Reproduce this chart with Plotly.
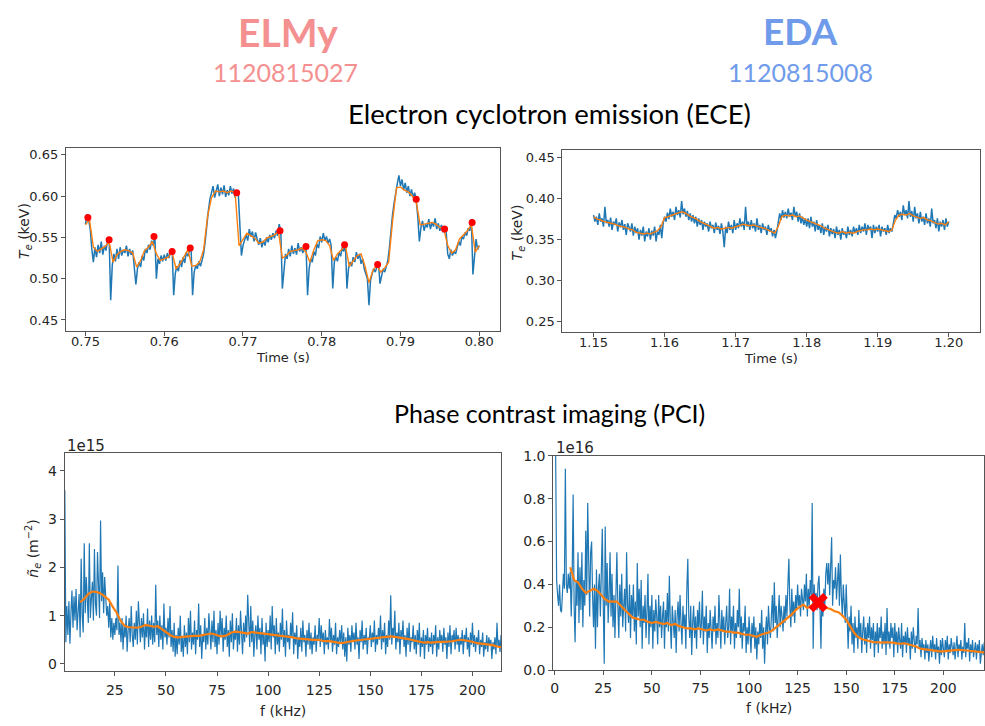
import plotly.graph_objects as go

# ---------------- ECE, ELMy discharge 1120815027 ----------------
ece_elmy_t0, ece_elmy_dt = 0.7500, 0.0002
ece_elmy_raw = [
    0.566, 0.578, 0.571, 0.560, 0.536, 0.520, 0.538, 0.526, 0.541, 0.531,
    0.545, 0.529, 0.540, 0.534, 0.546, 0.549, 0.474, 0.516, 0.530, 0.521,
    0.536, 0.524, 0.538, 0.528, 0.535, 0.531, 0.540, 0.527, 0.536, 0.529,
    0.534, 0.512, 0.493, 0.512, 0.520, 0.514, 0.528, 0.522, 0.536, 0.531,
    0.541, 0.535, 0.546, 0.540, 0.553, 0.500, 0.524, 0.518, 0.528, 0.521,
    0.529, 0.522, 0.531, 0.525, 0.533, 0.536, 0.480, 0.506, 0.515, 0.509,
    0.522, 0.514, 0.526, 0.519, 0.532, 0.527, 0.533, 0.540, 0.480, 0.508,
    0.516, 0.512, 0.521, 0.515, 0.522, 0.530, 0.545, 0.566, 0.582, 0.596,
    0.603, 0.612, 0.598, 0.608, 0.614, 0.600, 0.610, 0.602, 0.613, 0.599,
    0.607, 0.601, 0.612, 0.603, 0.609, 0.598, 0.606, 0.604, 0.560, 0.528,
    0.540, 0.548, 0.553, 0.546, 0.560, 0.551, 0.557, 0.545, 0.556, 0.548,
    0.541, 0.549, 0.538, 0.546, 0.540, 0.550, 0.544, 0.553, 0.547, 0.555,
    0.549, 0.558, 0.552, 0.566, 0.558, 0.488, 0.515, 0.530, 0.524, 0.536,
    0.527, 0.540, 0.530, 0.537, 0.529, 0.543, 0.533, 0.538, 0.531, 0.540,
    0.542, 0.480, 0.512, 0.524, 0.520, 0.533, 0.528, 0.542, 0.537, 0.551,
    0.544, 0.555, 0.546, 0.551, 0.543, 0.548, 0.540, 0.488, 0.520, 0.526,
    0.521, 0.532, 0.527, 0.538, 0.533, 0.543, 0.488, 0.512, 0.520, 0.515,
    0.526, 0.520, 0.532, 0.524, 0.530, 0.518, 0.524, 0.512, 0.506, 0.500,
    0.468, 0.498, 0.506, 0.512, 0.508, 0.515, 0.520, 0.494, 0.505, 0.512,
    0.508, 0.516, 0.522, 0.538, 0.560, 0.578, 0.592, 0.606, 0.615, 0.625,
    0.612, 0.620, 0.607, 0.616, 0.604, 0.612, 0.600, 0.608, 0.598, 0.604,
    0.595, 0.575, 0.545, 0.562, 0.570, 0.558, 0.566, 0.562, 0.572, 0.560,
    0.568, 0.563, 0.573, 0.560, 0.567, 0.558, 0.565, 0.556, 0.562, 0.557,
    0.530, 0.524, 0.535, 0.528, 0.533, 0.530, 0.538, 0.545, 0.540, 0.551,
    0.548, 0.556, 0.552, 0.561, 0.558, 0.572, 0.505, 0.528, 0.548, 0.535,
    0.540,
]
ece_elmy_smooth_dt = 0.0005
ece_elmy_smooth = [
    0.565, 0.572, 0.538, 0.533, 0.536, 0.539, 0.545, 0.520, 0.529, 0.533,
    0.535, 0.534, 0.531, 0.514, 0.522, 0.534, 0.538, 0.545, 0.530, 0.522,
    0.524, 0.526, 0.532, 0.512, 0.518, 0.527, 0.535, 0.515, 0.516, 0.520,
    0.535, 0.575, 0.598, 0.606, 0.605, 0.606, 0.604, 0.606, 0.604, 0.540,
    0.548, 0.555, 0.552, 0.549, 0.543, 0.544, 0.549, 0.551, 0.553, 0.557,
    0.525, 0.528, 0.533, 0.534, 0.535, 0.537, 0.532, 0.520, 0.535, 0.546,
    0.547, 0.546, 0.540, 0.522, 0.530, 0.535, 0.540, 0.515, 0.522, 0.528,
    0.530, 0.515, 0.495, 0.510, 0.516, 0.508, 0.513, 0.520, 0.570, 0.610,
    0.611, 0.607, 0.605, 0.600, 0.593, 0.565, 0.566, 0.567, 0.568, 0.566,
    0.562, 0.560, 0.540, 0.531, 0.535, 0.548, 0.553, 0.558, 0.565, 0.532,
    0.540,
]
# ELM crash onsets (peaks before each drop)
elm_t = [0.7503, 0.7530, 0.7587, 0.7610, 0.7633, 0.7692, 0.7747,
         0.7780, 0.7829, 0.7871, 0.7920, 0.7956, 0.7991]
elm_te = [0.574, 0.547, 0.551, 0.533, 0.537, 0.604, 0.558,
          0.539, 0.541, 0.517, 0.596, 0.560, 0.568]

# ---------------- ECE, EDA discharge 1120815008 ----------------
ece_eda_t0, ece_eda_dt = 1.1500, 0.0002
ece_eda_raw = [
    0.380, 0.372, 0.378, 0.368, 0.382, 0.372, 0.376, 0.366, 0.390, 0.370,
    0.374, 0.366, 0.377, 0.362, 0.372, 0.368, 0.376, 0.360, 0.371, 0.365,
    0.374, 0.362, 0.369, 0.356, 0.370, 0.364, 0.360, 0.370, 0.355, 0.366,
    0.358, 0.364, 0.350, 0.362, 0.355, 0.366, 0.348, 0.360, 0.354, 0.364,
    0.350, 0.361, 0.355, 0.366, 0.348, 0.360, 0.356, 0.368, 0.352, 0.370,
    0.378, 0.372, 0.383, 0.375, 0.388, 0.378, 0.384, 0.374, 0.390, 0.380,
    0.386, 0.377, 0.397, 0.381, 0.388, 0.378, 0.385, 0.374, 0.382, 0.372,
    0.380, 0.370, 0.378, 0.366, 0.376, 0.368, 0.374, 0.362, 0.372, 0.366,
    0.370, 0.360, 0.372, 0.364, 0.368, 0.358, 0.371, 0.362, 0.367, 0.357,
    0.370, 0.360, 0.341, 0.366, 0.358, 0.372, 0.362, 0.368, 0.358, 0.374,
    0.362, 0.370, 0.364, 0.376, 0.366, 0.372, 0.362, 0.390, 0.366, 0.372,
    0.362, 0.374, 0.364, 0.370, 0.360, 0.376, 0.362, 0.368, 0.358, 0.370,
    0.362, 0.366, 0.356, 0.368, 0.360, 0.364, 0.354, 0.362, 0.352, 0.360,
    0.372, 0.382, 0.374, 0.386, 0.377, 0.384, 0.376, 0.388, 0.378, 0.383,
    0.374, 0.390, 0.378, 0.384, 0.372, 0.382, 0.370, 0.378, 0.368, 0.376,
    0.366, 0.376, 0.364, 0.378, 0.366, 0.372, 0.360, 0.374, 0.362, 0.368,
    0.358, 0.370, 0.356, 0.366, 0.360, 0.368, 0.354, 0.364, 0.357, 0.363,
    0.352, 0.366, 0.356, 0.362, 0.350, 0.364, 0.356, 0.360, 0.352, 0.366,
    0.356, 0.362, 0.354, 0.366, 0.358, 0.364, 0.356, 0.368, 0.358, 0.366,
    0.360, 0.370, 0.356, 0.368, 0.362, 0.366, 0.352, 0.368, 0.358, 0.366,
    0.360, 0.368, 0.354, 0.366, 0.360, 0.364, 0.356, 0.368, 0.358, 0.364,
    0.360, 0.372, 0.380, 0.376, 0.386, 0.378, 0.384, 0.374, 0.392, 0.380,
    0.386, 0.376, 0.397, 0.378, 0.385, 0.372, 0.390, 0.376, 0.382, 0.370,
    0.384, 0.372, 0.378, 0.368, 0.382, 0.370, 0.376, 0.366, 0.388, 0.370,
    0.374, 0.364, 0.376, 0.360, 0.372, 0.366, 0.374, 0.362, 0.376, 0.366,
    0.372,
]
ece_eda_smooth_dt = 0.0005
ece_eda_smooth = [
    0.378, 0.375, 0.374, 0.372, 0.371, 0.370, 0.369, 0.367, 0.366, 0.365,
    0.363, 0.362, 0.359, 0.358, 0.357, 0.358, 0.357, 0.359, 0.361, 0.366,
    0.377, 0.378, 0.380, 0.381, 0.383, 0.384, 0.382, 0.379, 0.377, 0.375,
    0.372, 0.370, 0.368, 0.366, 0.364, 0.365, 0.363, 0.364, 0.365, 0.364,
    0.366, 0.367, 0.369, 0.368, 0.367, 0.368, 0.366, 0.365, 0.364, 0.362,
    0.361, 0.358, 0.366, 0.378, 0.380, 0.379, 0.380, 0.378, 0.379, 0.376,
    0.374, 0.372, 0.370, 0.368, 0.367, 0.364, 0.362, 0.360, 0.359, 0.358,
    0.360, 0.358, 0.359, 0.358, 0.360, 0.361, 0.362, 0.362, 0.363, 0.362,
    0.363, 0.362, 0.361, 0.360, 0.362, 0.374, 0.380, 0.381, 0.380, 0.382,
    0.379, 0.377, 0.376, 0.377, 0.374, 0.373, 0.371, 0.369, 0.370, 0.368,
    0.372,
]

# ---------------- PCI spectra ----------------
# ELMy, amplitude in units of 1e15 m^-2, 0.5 kHz bins starting at 0.5 kHz
pci_df = 0.5
pci_elmy = [
    3.60, 0.45, 1.20, 0.60, 1.30, 0.42, 1.05, 1.52, 0.75, 1.40,
    0.90, 1.55, 0.70, 1.10, 1.45, 0.55, 2.18, 1.00, 0.65, 2.50,
    1.05, 1.80, 1.20, 0.85, 2.50, 0.95, 1.35, 1.70, 0.90, 2.38,
    1.25, 1.00, 2.32, 1.40, 0.95, 2.97, 1.30, 1.90, 1.05, 1.80,
    1.45, 1.00, 1.20, 0.75, 1.30, 0.55, 0.95, 0.50, 0.85, 0.60,
    0.95, 0.70, 2.04, 0.60, 0.85, 0.45, 0.95, 0.30, 0.80, 0.55,
    1.00, 0.25, 0.70, 0.95, 0.45, 1.20, 0.60, 0.35, 0.85, 0.50,
    1.10, 0.40, 1.30, 0.75, 0.45, 0.95, 0.55, 1.05, 0.30, 0.80,
    0.55, 1.15, 0.35, 0.90, 0.50, 1.00, 0.40, 0.85, 0.45, 1.64,
    0.60, 0.90, 0.35, 1.00, 0.50, 0.80, 0.30, 1.25, 0.55, 0.75,
    0.40, 0.95, 0.55, 1.20, 0.35, 0.70, 0.25, 0.85, 0.15, 0.60,
    0.20, 0.75, 0.40, 1.00, 0.25, 0.55, 0.15, 0.80, 0.35, 0.65,
    0.20, 0.95, 0.45, 1.10, 0.30, 0.65, 0.40, 0.90, 0.20, 0.70,
    0.50, 1.25, 0.35, 0.80, 0.10, 0.60, 0.45, 0.95, 0.30, 0.75,
    0.40, 1.05, 0.55, 0.30, 0.90, 0.45, 1.10, 0.35, 0.70, 0.20,
    0.85, 0.40, 1.10, 0.55, 0.95, 0.25, 0.75, 0.50, 1.00, 0.35,
    0.70, 0.15, 0.90, 0.45, 1.05, 0.30, 0.65, 0.50, 0.95, 0.25,
    0.80, 0.40, 1.10, 0.60, 0.20, 0.85, 0.45, 1.00, 0.55, 1.43,
    0.70, 0.35, 1.20, 0.45, 0.90, 0.15, 0.60, 0.80, 0.30, 1.00,
    0.50, 0.75, 0.20, 0.95, 0.40, 0.65, 0.05, 0.85, 0.35, 0.70,
    0.45, 1.00, 0.30, 1.20, 0.55, 0.80, 0.20, 0.95, 0.40, 0.65,
    0.25, 0.85, 0.50, 1.15, 0.35, 0.70, 0.15, 0.90, 0.45, 0.60,
    0.30, 0.85, 0.55, 1.07, 0.20, 0.65, 0.40, 0.80, 0.10, 0.55,
    0.35, 0.75, 0.25, 0.90, 0.45, 0.60, 0.15, 0.70, 0.40, 0.85,
    0.30, 0.65, 0.20, 0.55, 0.40, 0.80, 0.25, 0.60, 0.50, 0.95,
    0.35, 0.80, 0.45, 0.65, 0.20, 0.70, 0.40, 0.55, 0.30, 0.93,
    0.45, 0.75, 0.25, 0.60, 0.40, 0.85, 0.20, 0.55, 0.35, 0.70,
    0.45, 0.80, 0.30, 0.65, 0.15, 0.55, 0.05, 0.75, 0.40, 0.60,
    0.25, 0.80, 0.45, 0.65, 0.30, 0.85, 0.40, 0.55, 0.10, 0.70,
    0.45, 0.90, 0.30, 0.60, 0.40, 0.75, 0.20, 0.55, 0.50, 0.80,
    0.35, 0.65, 0.45, 0.90, 0.25, 0.60, 0.40, 0.75, 0.50, 1.00,
    0.30, 0.70, 0.45, 0.85, 0.20, 0.60, 0.35, 0.90, 0.50, 1.42,
    0.40, 0.75, 0.55, 1.10, 0.30, 0.65, 0.45, 0.85, 0.20, 0.70,
    0.50, 0.90, 0.35, 0.60, 0.15, 0.75, 0.40, 0.85, 0.25, 0.55,
    0.45, 0.80, 0.30, 0.60, 0.20, 0.70, 0.40, 0.85, 0.15, 0.55,
    0.35, 0.70, 0.10, 0.60, 0.40, 0.75, 0.25, 0.55, 0.35, 0.65,
    0.20, 0.60, 0.40, 0.80, 0.15, 0.55, 0.30, 0.70, 0.45, 0.60,
    0.25, 0.75, 0.40, 0.55, 0.10, 0.65, 0.35, 0.80, 0.20, 0.60,
    0.45, 0.70, 0.30, 0.75, 0.40, 0.60, 0.25, 0.55, 0.40, 0.70,
    0.20, 0.60, 0.45, 0.75, 0.30, 0.55, 0.15, 0.65, 0.40, 0.85,
    0.35, 0.60, 0.25, 0.55, 0.40, 0.70, 0.20, 0.50, 0.35, 0.65,
    0.15, 0.45, 0.30, 0.60, 0.25, 0.55, 0.40, 0.50, 0.10, 0.45,
    0.30, 0.55, 0.20, 0.85, 0.35, 0.50, 0.25, 0.60, 0.30, 0.45,
    0.40, 0.50,
]
# smoothed spectrum, 2 kHz steps from 8 kHz
pci_smooth_f0, pci_smooth_df = 8.0, 2.0
pci_elmy_smooth = [
    1.28, 1.35, 1.45, 1.50, 1.49, 1.46, 1.40, 1.33, 1.18, 1.05,
    0.88, 0.78, 0.76, 0.76, 0.75, 0.77, 0.81, 0.79, 0.77, 0.78,
    0.72, 0.66, 0.60, 0.56, 0.55, 0.56, 0.57, 0.57, 0.58, 0.58,
    0.60, 0.62, 0.63, 0.61, 0.58, 0.57, 0.60, 0.65, 0.67, 0.66,
    0.65, 0.63, 0.66, 0.65, 0.63, 0.62, 0.62, 0.61, 0.60, 0.59,
    0.58, 0.56, 0.55, 0.53, 0.52, 0.52, 0.51, 0.50, 0.50, 0.48,
    0.47, 0.47, 0.45, 0.44, 0.43, 0.45, 0.47, 0.48, 0.49, 0.50,
    0.51, 0.52, 0.54, 0.55, 0.56, 0.56, 0.57, 0.56, 0.55, 0.53,
    0.52, 0.50, 0.48, 0.46, 0.44, 0.45, 0.44, 0.45, 0.45, 0.46,
    0.46, 0.47, 0.48, 0.50, 0.49, 0.48, 0.46, 0.43, 0.42, 0.41,
    0.40, 0.39, 0.36, 0.34, 0.33,
]

# EDA, amplitude in units of 1e16 m^-2
pci_eda = [
    1.00, 0.42, 0.35, 0.30, 0.40, 0.28, 0.27, 0.39, 0.45, 0.38,
    0.94, 0.40, 0.36, 0.45, 0.38, 0.46, 0.25, 0.44, 0.82, 0.30,
    0.13, 0.42, 0.30, 0.55, 0.22, 0.48, 0.28, 0.55, 0.20, 0.42,
    0.30, 0.65, 0.35, 0.78, 0.45, 0.25, 0.55, 0.60, 0.35, 0.20,
    0.40, 0.10, 0.47, 0.20, 0.38, 0.45, 0.25, 0.40, 0.66, 0.30,
    0.03, 0.67, 0.30, 0.50, 0.22, 0.35, 0.55, 0.25, 0.45, 0.20,
    0.35, 0.15, 0.42, 0.55, 0.30, 0.15, 0.40, 0.25, 0.45, 0.20,
    0.30, 0.38, 0.18, 0.55, 0.30, 0.22, 0.40, 0.15, 0.35, 0.25,
    0.40, 0.18, 0.32, 0.12, 0.50, 0.25, 0.38, 0.20, 0.42, 0.10,
    0.30, 0.22, 0.35, 0.15, 0.28, 0.45, 0.12, 0.30, 0.20, 0.35,
    0.10, 0.28, 0.18, 0.33, 0.25, 0.12, 0.35, 0.20, 0.30, 0.15,
    0.25, 0.32, 0.10, 0.28, 0.20, 0.36, 0.18, 0.44, 0.22, 0.10,
    0.30, 0.20, 0.15, 0.28, 0.08, 0.25, 0.32, 0.18, 0.35, 0.22,
    0.12, 0.30, 0.20, 0.26, 0.10, 0.38, 0.52, 0.25, 0.15, 0.30,
    0.07, 0.22, 0.30, 0.15, 0.25, 0.10, 0.28, 0.20, 0.32, 0.15,
    0.22, 0.37, 0.12, 0.25, 0.18, 0.30, 0.08, 0.22, 0.15, 0.28,
    0.20, 0.10, 0.25, 0.18, 0.30, 0.12, 0.22, 0.15, 0.35, 0.20,
    0.10, 0.28, 0.18, 0.25, 0.12, 0.22, 0.30, 0.15, 0.20, 0.38,
    0.12, 0.25, 0.18, 0.30, 0.10, 0.22, 0.15, 0.28, 0.20, 0.38,
    0.15, 0.25, 0.10, 0.22, 0.18, 0.30, 0.08, 0.20, 0.12, 0.25,
    0.18, 0.08, 0.22, 0.15, 0.25, 0.10, 0.20, 0.05, 0.18, 0.12,
    0.22, 0.15, 0.28, 0.10, 0.20, 0.03, 0.18, 0.25, 0.12, 0.30,
    0.20, 0.15, 0.25, 0.35, 0.18, 0.41, 0.22, 0.30, 0.15, 0.25,
    0.35, 0.20, 0.30, 0.25, 0.18, 0.30, 0.22, 0.35, 0.25, 0.40,
    0.52, 0.30, 0.20, 0.38, 0.25, 0.32, 0.22, 0.35, 0.28, 0.40,
    0.30, 0.35, 0.25, 0.38, 0.30, 0.28, 0.40, 0.32, 0.45, 0.25,
    0.38, 0.30, 0.42, 0.35, 0.78, 0.10, 0.40, 0.32, 0.36, 0.28,
    0.40, 0.44, 0.30, 0.10, 0.35, 0.25, 0.38, 0.30, 0.45, 0.50,
    0.40, 0.50, 0.35, 0.45, 0.62, 0.30, 0.42, 0.38, 0.48, 0.33,
    0.45, 0.50, 0.30, 0.54, 0.35, 0.25, 0.40, 0.30, 0.22, 0.40,
    0.28, 0.10, 0.25, 0.18, 0.30, 0.12, 0.22, 0.08, 0.25, 0.15,
    0.20, 0.10, 0.28, 0.15, 0.22, 0.08, 0.18, 0.25, 0.12, 0.20,
    0.08, 0.22, 0.15, 0.25, 0.10, 0.20, 0.14, 0.22, 0.06, 0.18,
    0.12, 0.22, 0.08, 0.20, 0.15, 0.25, 0.10, 0.18, 0.12, 0.22,
    0.07, 0.29, 0.12, 0.18, 0.10, 0.22, 0.15, 0.20, 0.06, 0.22,
    0.12, 0.18, 0.08, 0.20, 0.14, 0.10, 0.22, 0.06, 0.16, 0.12,
    0.18, 0.08, 0.20, 0.12, 0.15, 0.05, 0.18, 0.10, 0.20, 0.14,
    0.08, 0.16, 0.12, 0.29, 0.10, 0.14, 0.06, 0.15, 0.10, 0.12,
    0.05, 0.14, 0.08, 0.12, 0.04, 0.10, 0.14, 0.06, 0.16, 0.09,
    0.12, 0.05, 0.15, 0.08, 0.11, 0.03, 0.14, 0.07, 0.15, 0.10,
    0.06, 0.14, 0.09, 0.16, 0.05, 0.12, 0.08, 0.15, 0.10, 0.07,
    0.13, 0.05, 0.11, 0.16, 0.06, 0.12, 0.09, 0.14, 0.05, 0.11,
    0.08, 0.22, 0.06, 0.13, 0.10, 0.15, 0.04, 0.12, 0.08, 0.14,
    0.06, 0.11, 0.13, 0.05, 0.12, 0.08, 0.14, 0.03, 0.10, 0.12,
    0.07, 0.13, 0.10,
]
pci_eda_smooth = [
    0.48, 0.42, 0.41, 0.38, 0.36, 0.37, 0.38, 0.37, 0.35, 0.33,
    0.32, 0.32, 0.32, 0.30, 0.28, 0.26, 0.245, 0.24, 0.235, 0.235,
    0.225, 0.22, 0.225, 0.22, 0.215, 0.22, 0.21, 0.215, 0.205, 0.20,
    0.195, 0.195, 0.19, 0.195, 0.19, 0.185, 0.19, 0.185, 0.19, 0.185,
    0.18, 0.18, 0.175, 0.175, 0.17, 0.165, 0.165, 0.16, 0.155, 0.165,
    0.17, 0.175, 0.185, 0.20, 0.215, 0.23, 0.245, 0.26, 0.28, 0.295,
    0.305, 0.29, 0.30, 0.31, 0.315, 0.305, 0.29, 0.285, 0.275, 0.27,
    0.255, 0.235, 0.205, 0.175, 0.155, 0.145, 0.14, 0.135, 0.13, 0.13,
    0.128, 0.13, 0.13, 0.128, 0.125, 0.123, 0.125, 0.12, 0.115, 0.11,
    0.10, 0.097, 0.093, 0.09, 0.088, 0.087, 0.087, 0.088, 0.09, 0.093,
    0.095, 0.093, 0.09, 0.088, 0.086, 0.085, 0.083, 0.082,
]
# frequency of the highlighted spectral feature
qcm_f = 135.6
qcm_amp = 0.315

# ---------------- helpers ----------------
W, H = 985, 726
BLUE, ORANGE = "#1f77b4", "#ff7f0e"
TICK_FONT_TOP = dict(family="DejaVu Sans", size=13, color="#262626")
TICK_FONT_BOT = dict(family="DejaVu Sans", size=14, color="#262626")


def grid(start, step, n):
    return [round(start + step * i, 6) for i in range(n)]


def px(x):
    return x / W


def py(y):
    return 1 - y / H


fig = go.Figure()

# ECE ELMy
fig.add_trace(go.Scatter(x=grid(ece_elmy_t0, ece_elmy_dt, len(ece_elmy_raw)), y=ece_elmy_raw,
                         mode="lines", line=dict(color=BLUE, width=1.5), xaxis="x", yaxis="y"))
fig.add_trace(go.Scatter(x=grid(ece_elmy_t0, ece_elmy_smooth_dt, len(ece_elmy_smooth)), y=ece_elmy_smooth,
                         mode="lines", line=dict(color=ORANGE, width=1.4), xaxis="x", yaxis="y"))
fig.add_trace(go.Scatter(x=elm_t, y=elm_te, mode="markers",
                         marker=dict(color="red", size=7), xaxis="x", yaxis="y"))

# ECE EDA
fig.add_trace(go.Scatter(x=grid(ece_eda_t0, ece_eda_dt, len(ece_eda_raw)), y=ece_eda_raw,
                         mode="lines", line=dict(color=BLUE, width=1.5), xaxis="x2", yaxis="y2"))
fig.add_trace(go.Scatter(x=grid(ece_eda_t0, ece_eda_smooth_dt, len(ece_eda_smooth)), y=ece_eda_smooth,
                         mode="lines", line=dict(color=ORANGE, width=1.4), xaxis="x2", yaxis="y2"))

# PCI ELMy
fig.add_trace(go.Scatter(x=grid(pci_df, pci_df, len(pci_elmy)), y=pci_elmy,
                         mode="lines", line=dict(color=BLUE, width=1.2), xaxis="x3", yaxis="y3"))
fig.add_trace(go.Scatter(x=grid(pci_smooth_f0, pci_smooth_df, len(pci_elmy_smooth)), y=pci_elmy_smooth,
                         mode="lines", line=dict(color=ORANGE, width=2.2), xaxis="x3", yaxis="y3"))

# PCI EDA
fig.add_trace(go.Scatter(x=grid(pci_df, pci_df, len(pci_eda)), y=pci_eda,
                         mode="lines", line=dict(color=BLUE, width=1.2), xaxis="x4", yaxis="y4"))
fig.add_trace(go.Scatter(x=grid(pci_smooth_f0, pci_smooth_df, len(pci_eda_smooth)), y=pci_eda_smooth,
                         mode="lines", line=dict(color=ORANGE, width=2.2), xaxis="x4", yaxis="y4"))
fig.add_trace(go.Scatter(x=[qcm_f], y=[qcm_amp], mode="markers",
                         marker=dict(color="red", size=17, symbol="x", line=dict(width=0)),
                         xaxis="x4", yaxis="y4"))


def axis(domain, rng, dtick, tick0, fmt, font, anchor, standoff=0):
    return dict(domain=domain, range=rng, dtick=dtick, tick0=tick0, tickformat=fmt,
                tickfont=font, anchor=anchor, showgrid=False, zeroline=False,
                showline=True, mirror=True, linecolor="#555555", linewidth=1,
                ticks="outside", ticklen=4, tickcolor="#555555", tickwidth=1,
                ticklabelstandoff=standoff)


fig.update_layout(
    width=W, height=H, margin=dict(l=0, r=0, t=0, b=0),
    paper_bgcolor="white", plot_bgcolor="white", showlegend=False,
    xaxis=axis([px(63), px(499)], [0.7475, 0.8027], 0.01, 0.75, ".2f", TICK_FONT_TOP, "y", -5),
    yaxis=axis([py(330), py(143)], [0.437, 0.6583], 0.05, 0.45, ".2f", TICK_FONT_TOP, "x"),
    xaxis2=axis([px(561), px(980)], [1.1456, 1.2044], 0.01, 1.15, ".2f", TICK_FONT_TOP, "y2", -5),
    yaxis2=axis([py(331), py(145)], [0.238, 0.4595], 0.05, 0.25, ".2f", TICK_FONT_TOP, "x2"),
    xaxis3=axis([px(62), px(500)], [0.5, 214.2], 25, 0, "d", TICK_FONT_BOT, "y3", 2),
    yaxis3=axis([py(678), py(455)], [-0.148, 4.37], 1, 0, "d", TICK_FONT_BOT, "x3"),
    xaxis4=axis([px(552), px(984)], [-0.7, 220.9], 25, 0, "d", TICK_FONT_BOT, "y4", 1),
    yaxis4=axis([py(677), py(458)], [0, 1.0], 0.2, 0, ".1f", TICK_FONT_BOT, "x4"),
)

annotations = []


def text(x, y, s, size, color="#000000", family="Open Sans", angle=0, xanchor="center"):
    annotations.append(dict(x=px(x), y=py(y), xref="paper", yref="paper", text=s,
                            showarrow=False, xanchor=xanchor, yanchor="middle", textangle=angle,
                            font=dict(family=family, size=size, color=color)))


# discharge headings
text(286, 24.5, "<b>ELMy</b>", 39, "#f4908f", "Lato")
text(283, 65, "1120815027", 25, "#f4908f", "Lato")
text(800, 23.5, "<b>EDA</b>", 37, "#6f9bea", "Lato")
text(800, 65, "1120815008", 25, "#6f9bea", "Lato")

# section headings
text(548, 108, "Electron cyclotron emission (ECE)", 27.5, "#000000", "Lato")
text(548, 414, "Phase contrast imaging (PCI)", 25, "#000000", "Lato")

# axis titles
text(281, 357, "Time (s)", 13, "#262626", "DejaVu Sans")
text(770, 358, "Time (s)", 13, "#262626", "DejaVu Sans")
text(22, 228, "<i>T</i><sub><i>e</i></sub> (keV)", 14, "#262626", "DejaVu Sans", -90)
text(517, 229, "<i>T</i><sub><i>e</i></sub> (keV)", 14, "#262626", "DejaVu Sans", -90)
text(281, 719, "f (kHz)", 14, "#262626", "DejaVu Sans")
text(768, 716, "f (kHz)", 14, "#262626", "DejaVu Sans")
text(30, 553, "<i>ñ</i><sub><i>e</i></sub> (m<sup>−2</sup>)", 14, "#262626", "DejaVu Sans", -90)

# offset (scale) labels
text(62, 448, "1e15", 15, "#262626", "DejaVu Sans", xanchor="left")
text(553, 450, "1e16", 15, "#262626", "DejaVu Sans", xanchor="left")

fig.update_layout(annotations=annotations)
fig.write_html("out.html")
